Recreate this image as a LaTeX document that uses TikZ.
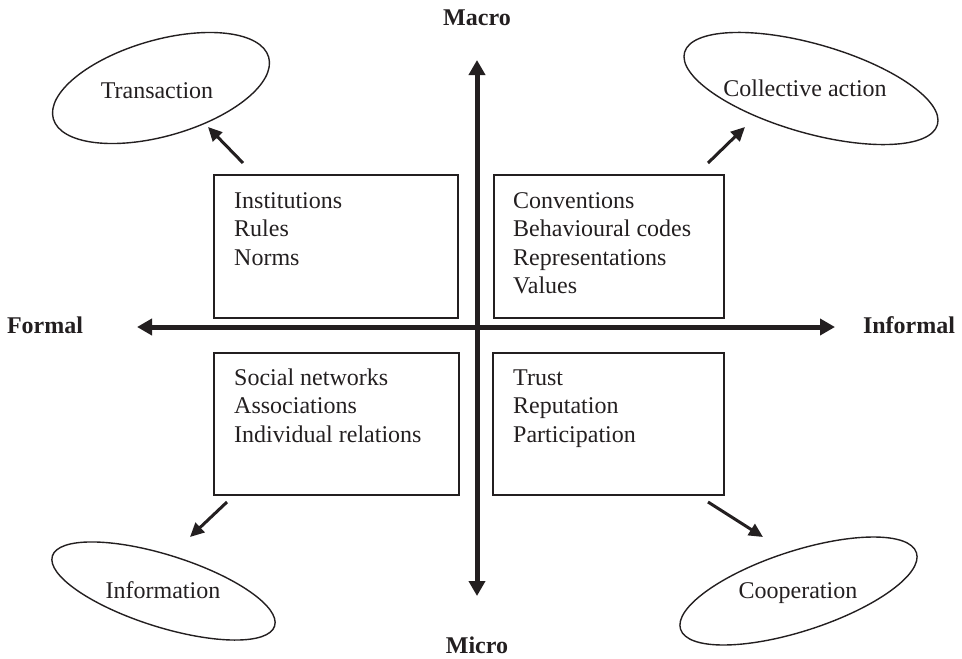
\documentclass[tikz,border=0pt]{standalone}
\usepackage{fontspec}
\setmainfont{Liberation Serif}
\usetikzlibrary{arrows.meta,shapes.geometric}
\definecolor{ink}{RGB}{35,31,32}
\begin{document}
\begin{tikzpicture}[x=1pt,y=-1pt,
  every node/.style={text=ink, font=\fontsize{24}{28}\selectfont},
  quad/.style={draw=ink, line width=1.4pt, rectangle, inner sep=0pt},
  oval/.style={draw=ink, line width=1.4pt, ellipse, inner sep=0pt},
  item/.style={anchor=base west, inner sep=0pt},
  caption/.style={anchor=base, inner sep=0pt},
  pole/.style={anchor=base, inner sep=0pt, font=\fontsize{24}{28}\selectfont\bfseries},
  axis/.style={draw=ink, line width=5pt,
    {Triangle[length=15pt,width=16pt]}-{Triangle[length=15pt,width=16pt]}},
  link/.style={draw=ink, line width=3pt, -{Triangle[length=14pt,width=13pt]}},
]
\useasboundingbox (0,0) rectangle (962,659);

% quadrant boxes
\node[quad, minimum width=244pt, minimum height=143pt] (nw) at (336,246.5) {};
\node[quad, minimum width=230pt, minimum height=143pt] (ne) at (609,246.5) {};
\node[quad, minimum width=245pt, minimum height=142pt] (sw) at (336.5,424) {};
\node[quad, minimum width=231pt, minimum height=142pt] (se) at (608.5,424) {};

% box contents
\node[item] (nw1) at (234,208) {Institutions};
\node[item] (nw2) at (234,236.5) {Rules};
\node[item] (nw3) at (234,265) {Norms};

\node[item] (ne1) at (513,208) {Conventions};
\node[item] (ne2) at (513,236.5) {Behavioural codes};
\node[item] (ne3) at (513,265) {Representations};
\node[item] (ne4) at (513,293.5) {Values};

\node[item] (sw1) at (234,385) {Social networks};
\node[item] (sw2) at (234,413.5) {Associations};
\node[item] (sw3) at (234,442) {Individual relations};

\node[item] (se1) at (513,385) {Trust};
\node[item] (se2) at (513,413.5) {Reputation};
\node[item] (se3) at (513,442) {Participation};

% outcome ellipses
\node[oval, minimum width=224pt, minimum height=96pt, rotate=16] (trans) at (161,88) {};
\node[oval, minimum width=263pt, minimum height=89pt, rotate=-16] (coll) at (811,88.5) {};
\node[oval, minimum width=233pt, minimum height=72pt, rotate=-17.5] (info) at (163.5,591) {};
\node[oval, minimum width=248pt, minimum height=80pt, rotate=18] (coop) at (798.5,591) {};

\node[caption] (transT) at (157,98) {Transaction};
\node[caption] (collT) at (805,96) {Collective action};
\node[caption] (infoT) at (163,598) {Information};
\node[caption] (coopT) at (798,598) {Cooperation};

% axis labels
\node[pole] (macro) at (477,25) {Macro};
\node[pole] (micro) at (477,653) {Micro};
\node[pole] (formal) at (45,333) {Formal};
\node[pole] (informal) at (909,333) {Informal};

% axes
\coordinate (top) at (477,60);
\coordinate (bottom) at (477,596);
\coordinate (left) at (137,327);
\coordinate (right) at (835,327);
\draw[axis] (top) -- (bottom);
\draw[axis] (left) -- (right);

% diagonal arrows
\coordinate (a1s) at (243,163); \coordinate (a1e) at (208,127);
\coordinate (a2s) at (708,163); \coordinate (a2e) at (745,127);
\coordinate (a3s) at (227,502); \coordinate (a3e) at (190,537);
\coordinate (a4s) at (708,502); \coordinate (a4e) at (763,537);
\draw[link] (a1s) -- (a1e);
\draw[link] (a2s) -- (a2e);
\draw[link] (a3s) -- (a3e);
\draw[link] (a4s) -- (a4e);
\end{tikzpicture}
\end{document}
